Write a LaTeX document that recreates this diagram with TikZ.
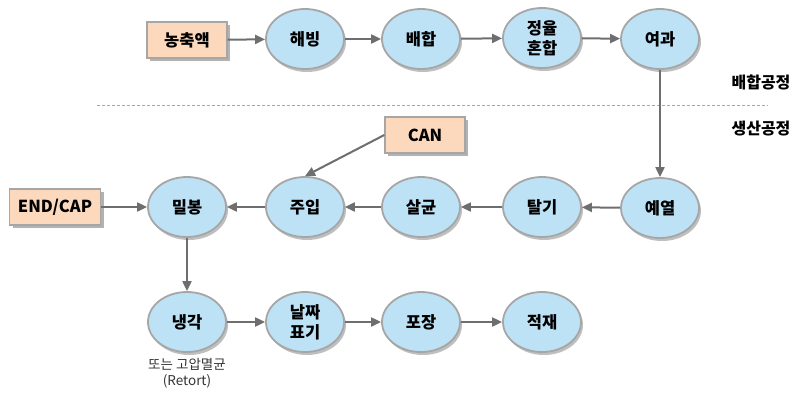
\documentclass[tikz,border=0pt]{standalone}
\usepackage{fontspec}
\setmainfont{Noto Sans CJK KR}
\usetikzlibrary{shapes.geometric,arrows.meta,shadows}
\definecolor{ellfill}{HTML}{BDE2F6}
\definecolor{boxfill}{HTML}{FCD8BC}
\definecolor{edgegray}{HTML}{A6A6A6}
\definecolor{arrgray}{HTML}{6E6E6E}
\begin{document}
\begin{tikzpicture}[x=1pt,y=-1pt,
  proc/.style={ellipse,draw=edgegray,line width=1.8pt,fill=ellfill,
    minimum width=78pt,minimum height=60pt,inner sep=0pt,align=center,
    font=\fontsize{16.5}{20}\selectfont\bfseries,
    drop shadow={shadow xshift=2pt,shadow yshift=-3pt,fill=black,opacity=0.25}},
  inbox/.style={rectangle,draw=edgegray,line width=1.4pt,fill=boxfill,
    minimum width=80pt,minimum height=36pt,inner sep=0pt,
    font=\fontsize{16.5}{20}\selectfont\bfseries,
    drop shadow={shadow xshift=3pt,shadow yshift=-3pt,fill=black,opacity=0.3}},
  flow/.style={draw=arrgray,line width=2pt,-{Triangle[length=10pt,width=9pt]}},
  phase/.style={font=\fontsize{16}{18}\selectfont\bfseries},
  note/.style={font=\fontsize{13.5}{15.5}\selectfont,text=black!80,align=center}]
\useasboundingbox (0,0) rectangle (793,392);
% top row
\node[inbox] (nong) at (187,40) {농축액};
\node[proc] (haebing) at (305,39) {해빙};
\node[proc] (baehap) at (421,39) {배합};
\node[proc] (jeong) at (542,38) {정율\\혼합};
\node[proc] (yeogwa) at (660,39) {여과};
% phase labels and divider
\node[phase] (p1) at (761,82) {배합공정};
\node[phase] (p2) at (761,129) {생산공정};
\coordinate (dl) at (97,105);
\coordinate (dr) at (768,105);
\draw[gray!70,dashed,dash pattern=on 3pt off 2pt,line width=0.6pt] (dl) -- (dr);
% middle row
\node[inbox] (can) at (425,135) {CAN};
\node[inbox,minimum width=91pt] (endcap) at (55,207) {END/CAP};
\node[proc] (milbong) at (187,207) {밀봉};
\node[proc] (juip) at (305,207) {주입};
\node[proc] (salgyun) at (421,207) {살균};
\node[proc] (talgi) at (542,207) {탈기};
\node[proc] (yeyeol) at (660,208) {예열};
% bottom row
\node[proc] (naengak) at (187,322) {냉각};
\node[proc] (naljja) at (305,322) {날짜\\표기};
\node[proc] (pojang) at (421,322) {포장};
\node[proc] (jeokjae) at (542,322) {적재};
\node[note,anchor=north] (retort) at (187,355) {또는 고압멸균\\(Retort)};
% connectors
\draw[flow] (nong) -- (haebing);
\draw[flow] (haebing) -- (baehap);
\draw[flow] (baehap) -- (jeong);
\draw[flow] (jeong) -- (yeogwa);
\draw[flow] (yeogwa) -- (yeyeol);
\draw[flow] (yeyeol) -- (talgi);
\draw[flow] (talgi) -- (salgyun);
\draw[flow] (salgyun) -- (juip);
\draw[flow] (juip) -- (milbong);
\draw[flow] (endcap) -- (milbong);
\draw[flow] (can.west) -- (juip.north);
\draw[flow] (milbong) -- (naengak);
\draw[flow] (naengak) -- (naljja);
\draw[flow] (naljja) -- (pojang);
\draw[flow] (pojang) -- (jeokjae);
\end{tikzpicture}
\end{document}
